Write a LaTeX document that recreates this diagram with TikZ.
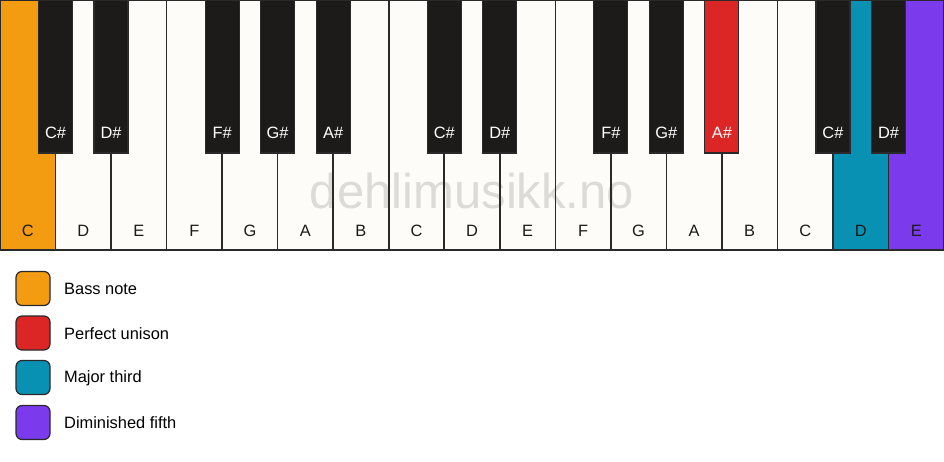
\documentclass[tikz,border=0pt]{standalone}
\usepackage{fontspec}
\setmainfont{Liberation Sans}
\definecolor{bassc}{HTML}{F39C12}
\definecolor{unisonc}{HTML}{DC2626}
\definecolor{thirdc}{HTML}{0891B2}
\definecolor{fifthc}{HTML}{7C3AED}
\definecolor{ivory}{HTML}{FDFCF9}
\definecolor{ebony}{HTML}{1C1B1A}
\definecolor{edge}{HTML}{2A2A2A}
\definecolor{wmark}{HTML}{DCDBD8}
\tikzset{
  whitekey/.style={rectangle, inner sep=0pt, outer sep=0pt, minimum width=55.53pt, minimum height=250pt, fill=ivory},
  blackkey/.style={rectangle, inner sep=0pt, outer sep=0pt, minimum width=34pt, minimum height=153pt, fill=ebony, draw=edge, line width=1.2pt},
  keylabel/.style={font=\fontsize{16.4}{16.4}\selectfont, inner sep=0pt},
  legendbox/.style={rectangle, rounded corners=6pt, minimum width=34pt, minimum height=34pt, draw=edge, line width=1.2pt, inner sep=0pt},
  legendtext/.style={anchor=west, font=\fontsize{16.4}{16.4}\selectfont, inner sep=0pt},
  keyedge/.style={draw=edge, line width=1.6pt}
}
\begin{document}
\begin{tikzpicture}[x=1pt,y=-1pt]
\useasboundingbox (0,0) rectangle (944,461);
\fill[white] (0,0) rectangle (944,461);
\def\w{55.5294}
% white keys (fills)
\foreach \i/\c in {0/bassc,1/ivory,2/ivory,3/ivory,4/ivory,5/ivory,6/ivory,7/ivory,8/ivory,9/ivory,10/ivory,11/ivory,12/ivory,13/ivory,14/ivory,15/thirdc,16/fifthc}{
  \node[whitekey, fill=\c] (w\i) at ({(\i+0.5)*\w}, 125) {};
}
% watermark
\node[text=wmark, font=\fontsize{49}{49}\selectfont, inner sep=0pt] (wm) at (472,191) {dehlimusikk.no};
% white key borders and labels
\foreach \i/\n in {0/C,1/D,2/E,3/F,4/G,5/A,6/B,7/C,8/D,9/E,10/F,11/G,12/A,13/B,14/C,15/D,16/E}{
  \draw[keyedge] (w\i.north west) rectangle (w\i.south east);
  \node[keylabel, text=ebony] (lw\i) at ([yshift=19.5pt]w\i.south) {\n};
}
% black keys
\foreach \i/\n/\c in {1/C\#/ebony,2/D\#/ebony,4/F\#/ebony,5/G\#/ebony,6/A\#/ebony,8/C\#/ebony,9/D\#/ebony,11/F\#/ebony,12/G\#/ebony,13/A\#/unisonc,15/C\#/ebony,16/D\#/ebony}{
  \node[blackkey, fill=\c] (b\i) at ({\i*\w}, 76.5) {};
  \node[keylabel, text=white] (lb\i) at ([yshift=20pt]b\i.south) {\n};
}
% legend
\node[legendbox, fill=bassc] (lg1) at (33,288.5) {};
\node[legendtext] (lt1) at (64,289) {Bass note};
\node[legendbox, fill=unisonc] (lg2) at (33,333) {};
\node[legendtext] (lt2) at (64,333.5) {Perfect unison};
\node[legendbox, fill=thirdc] (lg3) at (33,377.5) {};
\node[legendtext] (lt3) at (64,378) {Major third};
\node[legendbox, fill=fifthc] (lg4) at (33,422.5) {};
\node[legendtext] (lt4) at (64,423) {Diminished fifth};
\end{tikzpicture}
\end{document}
